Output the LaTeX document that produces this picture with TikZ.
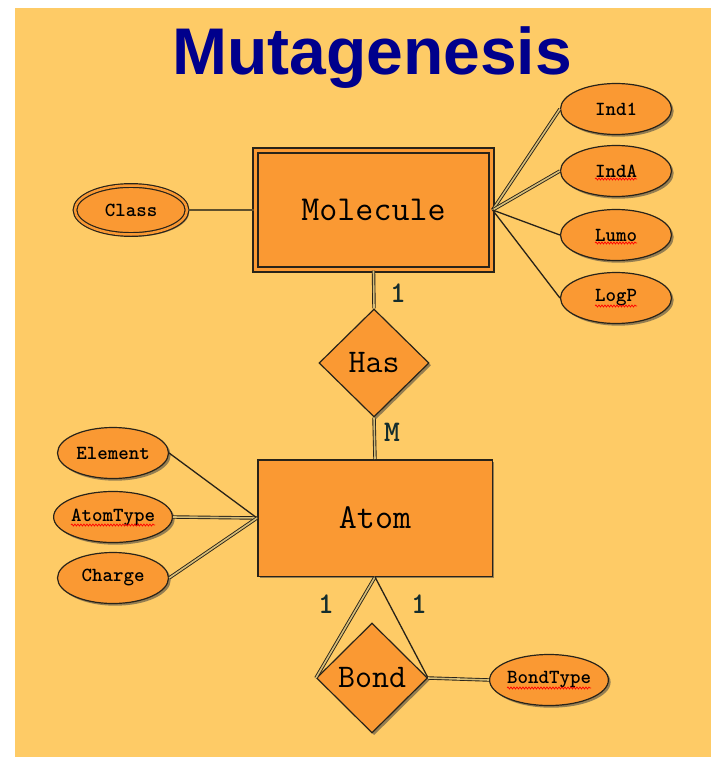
\documentclass[tikz,border=0pt]{standalone}
\usepackage{fontspec}
\newfontfamily\titlef{Liberation Sans}
\newfontfamily\ttbold{lmmonolt10-bold}[Extension=.otf]
\usetikzlibrary{shapes.geometric,shadows,decorations.pathmorphing}
\definecolor{panelbg}{RGB}{254,203,102}
\definecolor{shapefill}{RGB}{250,153,51}
\definecolor{titleblue}{RGB}{0,0,140}
\definecolor{linedark}{RGB}{40,35,25}
\definecolor{linegap}{RGB}{215,190,120}
\definecolor{cardcol}{RGB}{20,45,45}
\tikzset{
  shad/.style={drop shadow={shadow xshift=2.2pt,shadow yshift=-2.2pt,fill=black!75,opacity=.55}},
  entbox/.style={rectangle,draw=linedark,fill=shapefill,line width=1.5pt,inner sep=0pt,shad,
    font=\ttfamily\fontsize{35}{40}\selectfont},
  relbox/.style={diamond,draw=linedark,fill=shapefill,line width=1.2pt,inner sep=0pt,shad,
    font=\ttfamily\fontsize{33}{38}\selectfont},
  attr/.style={ellipse,draw=linedark,fill=shapefill,line width=1.2pt,inner sep=0pt,shad,
    minimum width=111pt,minimum height=51pt,font=\ttbold\fontsize{20}{24}\selectfont},
  card/.style={text=cardcol,inner sep=0pt,font=\ttbold\fontsize{30}{34}\selectfont},
  conn/.style={draw=linedark,line width=1.3pt},
  dconn/.style={draw=linedark,line width=0.9pt,double=linegap,double distance=1.6pt},
  spell/.style={draw=red,line width=0.7pt,decorate,decoration={snake,amplitude=1pt,segment length=3pt}}
}
\begin{document}
\begin{tikzpicture}[x=1pt,y=-1pt]
\useasboundingbox (0,0) rectangle (711,757);
\fill[panelbg] (15,8) rectangle (711,757);
\node[anchor=base,text=titleblue,inner sep=0pt,font=\titlef\bfseries\fontsize{66}{70}\selectfont] (title) at (372,75) {Mutagenesis};

% entities
\node[entbox,line width=2.2pt,double=shapefill,double distance=3.2pt,minimum width=236pt,minimum height=119pt] (Molecule) at (373.5,210) {Molecule};
\node[entbox,minimum width=234.5pt,minimum height=116.5pt] (Atom) at (375,518) {Atom};

% relationships
\node[relbox,minimum width=110pt,minimum height=108pt] (Has) at (374,363) {Has};
\node[relbox,minimum width=111pt,minimum height=110pt] (Bond) at (372,678) {Bond};

% attributes
\node[attr,line width=1.2pt,double=shapefill,double distance=2.5pt,minimum width=112pt,minimum height=49pt] (Class) at (131,210) {Class};
\node[attr] (Ind1) at (616,109) {Ind1};
\node[attr] (IndA) at (616,171) {IndA};
\node[attr] (Lumo) at (616,235) {Lumo};
\node[attr] (LogP) at (616,298) {LogP};
\node[attr] (Element) at (113,453) {Element};
\node[attr] (AtomType) at (113,517) {AtomType};
\node[attr] (Charge) at (113,578) {Charge};
\node[attr] (BondType) at (549,680) {BondType};

% spell-check underlines
\draw[spell] ([xshift=-21pt,yshift=-8pt]IndA.center) -- ([xshift=21pt,yshift=-8pt]IndA.center);
\draw[spell] ([xshift=-21pt,yshift=-8pt]Lumo.center) -- ([xshift=21pt,yshift=-8pt]Lumo.center);
\draw[spell] ([xshift=-21pt,yshift=-8pt]LogP.center) -- ([xshift=21pt,yshift=-8pt]LogP.center);
\draw[spell] ([xshift=-42pt,yshift=-8pt]AtomType.center) -- ([xshift=42pt,yshift=-8pt]AtomType.center);
\draw[spell] ([xshift=-42pt,yshift=-8pt]BondType.center) -- ([xshift=42pt,yshift=-8pt]BondType.center);

% connectors
\draw[conn,line width=2.5pt,draw={rgb,255:red,95;green,80;blue,45}] (Class.east) -- (Molecule.west);
\draw[dconn] (Molecule.east) -- (Ind1.west);
\draw[dconn] (Molecule.east) -- (IndA.west);
\draw[conn] (Molecule.east) -- (Lumo.west);
\draw[conn] (Molecule.east) -- (LogP.west);
\draw[dconn] (Molecule.south) -- (Has.north);
\draw[dconn] (Has.south) -- (Atom.north);
\draw[conn] (Atom.west) -- (Element.east);
\draw[dconn] (Atom.west) -- (AtomType.east);
\draw[dconn] (Atom.west) -- (Charge.east);
\draw[dconn] (Atom.south) -- (Bond.west);
\draw[conn] (Atom.south) -- (Bond.east);
\draw[dconn] (Bond.east) -- (BondType.west);

% cardinalities
\node[card] (c1) at (398,293) {1};
\node[card] (cM) at (392,432) {M};
\node[card] (c2) at (326,604) {1};
\node[card] (c3) at (419,604) {1};
\end{tikzpicture}
\end{document}
